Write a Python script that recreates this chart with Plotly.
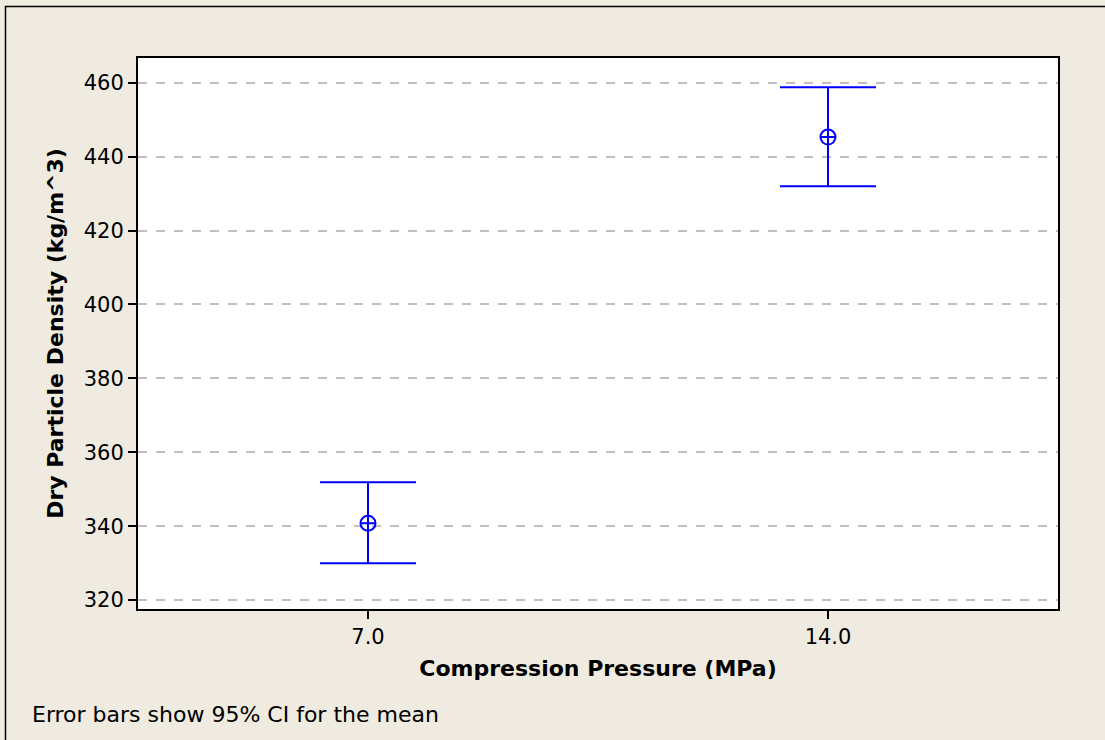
import plotly.graph_objects as go

pressure = [7.0, 14.0]
tick_labels = ["7.0", "14.0"]
means = [340.8, 445.3]
upper = [351.9, 458.8]
lower = [330.0, 432.0]

err_plus = [u - m for u, m in zip(upper, means)]
err_minus = [m - l for m, l in zip(means, lower)]

FONT = "DejaVu Sans"
BLUE = "#0000FF"
BG = "#EFEBE1"

fig = go.Figure()
fig.add_trace(go.Scatter(
    x=pressure, y=means, mode="markers",
    marker=dict(symbol="circle-cross-open", size=15, color=BLUE,
                line=dict(color=BLUE, width=2)),
    error_y=dict(type="data", symmetric=False, array=err_plus, arrayminus=err_minus,
                 color=BLUE, thickness=2, width=48),
    showlegend=False,
))

W, H = 1105, 740
L, R, T, B = 138, 47, 58, 131
pw = W - L - R
ph = H - T - B

def px_x(p):
    return (p - L) / pw

def px_y(p):
    return (H - B - p) / ph

fig.update_layout(
    width=W, height=H,
    margin=dict(l=L, r=R, t=T, b=B),
    paper_bgcolor=BG, plot_bgcolor="white",
    font=dict(family=FONT, color="black", size=22),
    xaxis=dict(
        range=[3.5, 17.5], tickvals=pressure, ticktext=tick_labels,
        ticks="outside", ticklen=8, tickcolor="black", tickwidth=1.5,
        showgrid=False, zeroline=False,
        showline=True, linecolor="black", linewidth=2, mirror=True,
        tickfont=dict(size=21, family=FONT),
        title=dict(text="<b>Compression Pressure (MPa)</b>", font=dict(size=22, family=FONT), standoff=12),
    ),
    yaxis=dict(
        range=[317.6, 466.7], tickvals=[320, 340, 360, 380, 400, 420, 440, 460],
        ticks="outside", ticklen=8, tickcolor="black", tickwidth=1.5,
        showgrid=True, gridcolor="#C0C0C0", griddash="dash", gridwidth=1.5,
        zeroline=False,
        showline=True, linecolor="black", linewidth=2, mirror=True,
        tickfont=dict(size=21, family=FONT),
        title=dict(text="<b>Dry Particle Density (kg/m^3)</b>", font=dict(size=22, family=FONT), standoff=14),
    ),
    shapes=[dict(type="rect", xref="paper", yref="paper",
                 x0=px_x(5.5), x1=px_x(1120), y0=px_y(760), y1=px_y(6.5),
                 line=dict(color="black", width=1.5), fillcolor="rgba(0,0,0,0)", layer="below")],
    annotations=[dict(text="Error bars show 95% CI for the mean", xref="paper", yref="paper",
                      x=px_x(30), y=px_y(714), xanchor="left", yanchor="middle",
                      showarrow=False, font=dict(size=22, family=FONT))],
)

fig.write_html("out.html")
